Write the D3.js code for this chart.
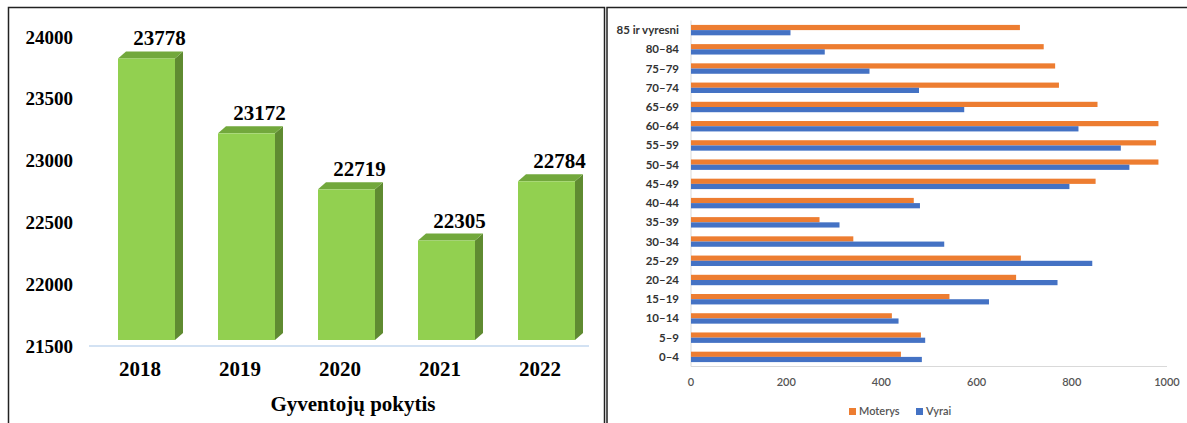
<!DOCTYPE html>
<html>
<head>
<meta charset="utf-8">
<script src="https://cdn.jsdelivr.net/npm/d3@7/dist/d3.min.js"></script>
<style>
body { margin: 0; background: white; }
svg { display: block; }
.serif { font-family: "Liberation Serif", "Times New Roman", serif; font-weight: bold; fill: black; }
.sans { font-family: Lato, "Open Sans", sans-serif; }
</style>
</head>
<body>
<div id="container"></div>
<script>
// left chart: population change
var years = ["2018", "2019", "2020", "2021", "2022"];
var population = [23778, 23172, 22719, 22305, 22784];
var popTicks = [21500, 22000, 22500, 23000, 23500, 24000];

// right chart: age structure
var ageGroups = ["85 ir vyresni", "80–84", "75–79", "70–74", "65–69", "60–64", "55–59", "50–54",
    "45–49", "40–44", "35–39", "30–34", "25–29", "20–24", "15–19", "10–14", "5–9", "0–4"];
var women = [691, 741, 765, 773, 854, 982, 977, 982, 850, 468, 270, 341, 693, 683, 543, 422, 483, 441];
var men = [209, 281, 375, 479, 574, 814, 903, 921, 795, 481, 312, 532, 843, 770, 626, 436, 492, 485];
var ageTicks = [0, 200, 400, 600, 800, 1000];

var width = 1187, height = 423;

var svg = d3.select("#container").append("svg")
    .attr("width", width)
    .attr("height", height);

// panel borders
svg.append("rect").attr("x", 8.5).attr("y", 7.5).attr("width", 596).attr("height", 420)
    .attr("fill", "none").attr("stroke", "#222").attr("stroke-width", 1.5);
svg.append("rect").attr("x", 607).attr("y", 7.5).attr("width", 590).attr("height", 420)
    .attr("fill", "none").attr("stroke", "#222").attr("stroke-width", 1.5);

// ---------- left chart ----------
var x1 = d3.scaleBand().domain(years).range([89, 589]);
var y1 = d3.scaleLinear().domain([21500, 24000]).range([346, 37]);
var depthX = 8, depthY = 7, shift = 6, faceW = 57;

var gl = svg.append("g");

gl.append("line")
    .attr("x1", 89).attr("x2", 589)
    .attr("y1", y1(21500)).attr("y2", y1(21500))
    .attr("stroke", "#c5d9ef").attr("stroke-width", 1.5);

gl.selectAll(".ytick")
    .data(popTicks)
    .enter().append("text")
    .attr("class", "serif")
    .attr("x", 73)
    .attr("y", function(d) { return y1(d); })
    .attr("dy", "0.35em")
    .attr("text-anchor", "end")
    .attr("font-size", 19)
    .text(function(d) { return d; });

var bars = gl.selectAll(".bar")
    .data(years)
    .enter().append("g")
    .attr("class", "bar");

function fx(d) { return x1(d) + 29; }
function fy(i) { return y1(population[i]) - shift; }
var yb = y1(21500) - shift;

// side face
bars.append("path")
    .attr("fill", "#5f8b31")
    .attr("d", function(d, i) {
        var r = fx(d) + faceW, t = fy(i);
        return "M" + r + "," + t + "L" + (r + depthX) + "," + (t - depthY) +
            "L" + (r + depthX) + "," + (yb - depthY) + "L" + r + "," + yb + "Z";
    });
// top face
bars.append("path")
    .attr("fill", "#72a83c")
    .attr("d", function(d, i) {
        var l = fx(d), r = l + faceW, t = fy(i);
        return "M" + l + "," + t + "L" + (l + depthX) + "," + (t - depthY) +
            "L" + (r + depthX) + "," + (t - depthY) + "L" + r + "," + t + "Z";
    });
// front face
bars.append("rect")
    .attr("fill", "#92d050")
    .attr("x", fx)
    .attr("y", function(d, i) { return fy(i); })
    .attr("width", faceW)
    .attr("height", function(d, i) { return yb - fy(i); });

bars.append("text")
    .attr("class", "serif")
    .attr("font-size", 21)
    .attr("text-anchor", "middle")
    .attr("x", function(d) { return fx(d) + faceW / 2 + 13; })
    .attr("y", function(d, i) { return fy(i) - depthY - 6; })
    .text(function(d, i) { return population[i]; });

gl.selectAll(".xlab")
    .data(years)
    .enter().append("text")
    .attr("class", "serif")
    .attr("font-size", 21)
    .attr("text-anchor", "middle")
    .attr("x", function(d) { return x1(d) + x1.bandwidth() / 2 + 1; })
    .attr("y", 376)
    .text(function(d) { return d; });

gl.append("text")
    .attr("class", "serif")
    .attr("font-size", 21)
    .attr("text-anchor", "middle")
    .attr("x", 353)
    .attr("y", 411)
    .text("Gyventojų pokytis");

// ---------- right chart ----------
var x2 = d3.scaleLinear().domain([0, 1000]).range([691, 1167]);
var y2 = d3.scaleBand().domain(ageGroups).range([20.5, 366.5]);
var inner = d3.scaleBand().domain(["w", "m"]).range([4.4, y2.bandwidth() - 4.4]);

var gr = svg.append("g");

gr.append("line")
    .attr("x1", x2(0)).attr("x2", x2(1000))
    .attr("y1", 366.5).attr("y2", 366.5)
    .attr("stroke", "#d9d9d9");
gr.append("line")
    .attr("x1", x2(0)).attr("x2", x2(0))
    .attr("y1", 20.5).attr("y2", 366.5)
    .attr("stroke", "#d9d9d9");

var rows = gr.selectAll(".row")
    .data(ageGroups)
    .enter().append("g")
    .attr("transform", function(d) { return "translate(0," + y2(d) + ")"; });

rows.append("rect")
    .attr("x", x2(0))
    .attr("y", inner("w"))
    .attr("height", inner.bandwidth())
    .attr("width", function(d, i) { return x2(women[i]) - x2(0); })
    .attr("fill", "#ed7d31");

rows.append("rect")
    .attr("x", x2(0))
    .attr("y", inner("m"))
    .attr("height", inner.bandwidth())
    .attr("width", function(d, i) { return x2(men[i]) - x2(0); })
    .attr("fill", "#4472c4");

rows.append("text")
    .attr("class", "sans")
    .attr("x", 679)
    .attr("y", y2.bandwidth() / 2)
    .attr("dy", "0.35em")
    .attr("text-anchor", "end")
    .attr("font-size", 11.5)
    .attr("font-weight", 700)
    .attr("fill", "#333")
    .text(function(d) { return d; });

gr.selectAll(".xtick")
    .data(ageTicks)
    .enter().append("text")
    .attr("class", "sans")
    .attr("x", function(d) { return x2(d); })
    .attr("y", 386)
    .attr("text-anchor", "middle")
    .attr("font-size", 11)
    .attr("font-weight", 600)
    .attr("fill", "#555")
    .text(function(d) { return d; });

var legend = [["Moterys", "#ed7d31", 849], ["Vyrai", "#4472c4", 916]];
var lg = gr.selectAll(".lg")
    .data(legend)
    .enter().append("g")
    .attr("transform", function(d) { return "translate(" + d[2] + ",408)"; });
lg.append("rect")
    .attr("width", 7).attr("height", 7)
    .attr("fill", function(d) { return d[1]; });
lg.append("text")
    .attr("class", "sans")
    .attr("x", 10)
    .attr("y", 3.5)
    .attr("dy", "0.35em")
    .attr("font-size", 11)
    .attr("font-weight", 600)
    .attr("fill", "#555")
    .text(function(d) { return d[0]; });
</script>
</body>
</html>
